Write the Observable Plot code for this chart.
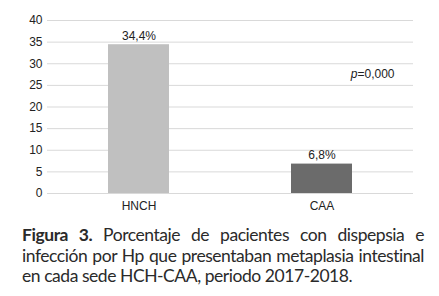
<!DOCTYPE html>
<html><head><meta charset="utf-8">
<script src="https://cdn.jsdelivr.net/npm/d3@7"></script>
<script src="https://cdn.jsdelivr.net/npm/@observablehq/plot@0.6"></script>
<style>
body{margin:0;background:#fff;width:439px;overflow:hidden}
#chart svg{display:block}
#cap{margin:10px 15px 0 22px;font-family:Lato,"Open Sans",sans-serif;font-size:17.5px;line-height:20.5px;color:#2a2a2a;letter-spacing:-0.45px}
#cap div{text-align:justify;text-align-last:justify;white-space:nowrap}
#cap div.last{text-align-last:left}
</style></head><body>
<div id="chart"></div>
<div id="cap">
<div><b>Figura 3.</b> Porcentaje de pacientes con dispepsia e</div>
<div>infección por Hp que presentaban metaplasia intestinal</div>
<div class="last">en cada sede HCH-CAA, periodo 2017-2018.</div>
</div>
<script>
const sites = ["HNCH", "CAA"];
const values = [34.4, 6.8];
const labels = ["34,4%", "6,8%"];
const colors = ["#c0c0c0", "#6b6b6b"];
const yTicks = [0, 5, 10, 15, 20, 25, 30, 35, 40];
const pValueY = 27.5;

const data = sites.map((s, i) => ({site: s, value: values[i], label: labels[i], color: colors[i]}));
const font = '"Liberation Sans Narrow","Arial Narrow","Liberation Sans",sans-serif';

const chart = Plot.plot({
  width: 439, height: 215,
  marginLeft: 47, marginRight: 26, marginTop: 20, marginBottom: 22,
  style: {fontFamily: font, fontSize: "12px", color: "#222", background: "#fff"},
  x: {domain: sites, paddingInner: 0.667, paddingOuter: 0.333, label: null, tickSize: 0, tickPadding: 8},
  y: {domain: [0, 40], ticks: yTicks, label: null, tickSize: 0, tickPadding: 5},
  marks: [
    Plot.ruleY(yTicks, {stroke: "#d9d9d9", strokeWidth: 1}),
    Plot.barY(data, {x: "site", y: "value", fill: "color"}),
    Plot.text(data, {x: "site", y: "value", text: "label", dy: -9, fontSize: 12, fill: "#222"}),
    Plot.text([pValueY], {y: d => d, frameAnchor: "right", dx: -56, text: () => "p", textAnchor: "end", fontStyle: "italic", fontSize: 12, fill: "#222"}),
    Plot.text([pValueY], {y: d => d, frameAnchor: "right", dx: -56, text: () => "=0,000", textAnchor: "start", fontSize: 12, fill: "#222"})
  ]
});
document.getElementById("chart").appendChild(chart);
</script>
</body></html>
